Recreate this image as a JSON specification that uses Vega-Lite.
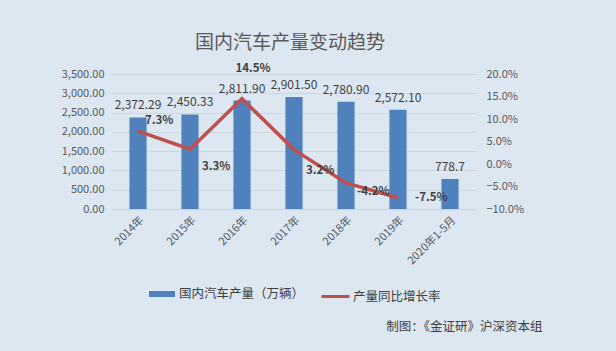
{
  "$schema": "https://vega.github.io/schema/vega-lite/v6.json",
  "width": 364,
  "height": 135,
  "autosize": {"type": "none"},
  "padding": {"left": 112, "top": 74, "right": 140, "bottom": 142},
  "background": "#dde7f1",
  "config": {
    "view": {"stroke": null},
    "font": "Noto Sans CJK SC",
    "axis": {"labelFont": "Noto Sans CJK SC", "labelColor": "#595959", "labelFontSize": 11, "titleFont": "Noto Sans CJK SC"},
    "legend": {"labelFont": "Noto Sans CJK SC", "labelColor": "#404040", "labelFontSize": 12.5}
  },
  "title": {
    "text": "国内汽车产量变动趋势",
    "fontSize": 19,
    "fontWeight": "normal",
    "color": "#595959",
    "font": "Noto Sans CJK SC",
    "anchor": "middle",
    "frame": "group",
    "dx": -4,
    "offset": 10
  },
  "data": {
    "values": [
      {"year": "2014年", "prod": 2372.29, "label": "2,372.29", "growth": 0.073, "glabel": "7.3%", "pos": "a"},
      {"year": "2015年", "prod": 2450.33, "label": "2,450.33", "growth": 0.033, "glabel": "3.3%", "pos": "b"},
      {"year": "2016年", "prod": 2811.90, "label": "2,811.90", "growth": 0.145, "glabel": "14.5%", "pos": "c"},
      {"year": "2017年", "prod": 2901.50, "label": "2,901.50", "growth": 0.032, "glabel": "3.2%", "pos": "f"},
      {"year": "2018年", "prod": 2780.90, "label": "2,780.90", "growth": -0.042, "glabel": "-4.2%", "pos": "d"},
      {"year": "2019年", "prod": 2572.10, "label": "2,572.10", "growth": -0.075, "glabel": "-7.5%", "pos": "e"},
      {"year": "2020年1-5月", "prod": 778.7, "label": "778.7", "growth": null, "glabel": null, "pos": null}
    ]
  },
  "encoding": {
    "x": {
      "field": "year",
      "type": "nominal",
      "sort": null,
      "scale": {"paddingInner": 0.67, "paddingOuter": 0.335},
      "axis": {
        "labelAngle": -45,
        "ticks": false,
        "domain": true,
        "domainColor": "#c9d2dc",
        "labelPadding": 5,
        "title": "制图：《金证研》沪深资本组",
        "titleX": 430,
        "titleY": 117,
        "titleAlign": "right",
        "titleBaseline": "middle",
        "titleFontSize": 12.5,
        "titleFontWeight": "normal",
        "titleColor": "#404040"
      }
    }
  },
  "layer": [
    {
      "mark": {"type": "bar", "color": "#4f81bd"},
      "encoding": {
        "y": {
          "field": "prod",
          "type": "quantitative",
          "scale": {"domain": [0, 3500]},
          "axis": {
            "values": [0, 500, 1000, 1500, 2000, 2500, 3000, 3500],
            "format": ",.2f",
            "title": null,
            "ticks": false,
            "domain": false,
            "gridColor": "#cdd5de",
            "labelPadding": 8
          }
        },
        "fill": {
          "datum": "国内汽车产量（万辆）",
          "scale": {"range": ["#4f81bd"]},
          "legend": {
            "title": null,
            "orient": "none",
            "legendX": 37,
            "legendY": 207,
            "symbolType": "M-1,-0.23H1V0.23H-1Z",
            "symbolSize": 676,
            "symbolStrokeWidth": 0,
            "labelOffset": 4
          }
        }
      }
    },
    {
      "mark": {"type": "text", "baseline": "bottom", "dy": -5, "fontSize": 12, "color": "#404040"},
      "encoding": {
        "y": {"field": "prod", "type": "quantitative", "scale": {"domain": [0, 3500]}, "axis": null},
        "text": {"field": "label"}
      }
    },
    {
      "transform": [{"filter": "datum.growth != null"}],
      "encoding": {
        "y": {
          "field": "growth",
          "type": "quantitative",
          "scale": {"domain": [-0.1, 0.2]},
          "axis": {
            "orient": "right",
            "values": [-0.1, -0.05, 0, 0.05, 0.1, 0.15, 0.2],
            "format": ".1%",
            "title": null,
            "ticks": false,
            "domain": false,
            "grid": false,
            "labelPadding": 10
          }
        }
      },
      "layer": [
        {
          "mark": {"type": "line", "strokeWidth": 3.5},
          "encoding": {
            "stroke": {
              "datum": "产量同比增长率",
              "scale": {"range": ["#c0504d"]},
              "legend": {
                "title": null,
                "orient": "none",
                "legendX": 208,
                "legendY": 207,
                "symbolType": "stroke",
                "symbolSize": 784,
                "symbolStrokeWidth": 3,
                "labelOffset": 2
              }
            }
          }
        },
        {
          "transform": [{"filter": "datum.pos == 'a'"}],
          "mark": {"type": "text", "align": "left", "dx": 7, "dy": -10, "fontSize": 11.5, "fontWeight": "bold", "color": "#404040"},
          "encoding": {"text": {"field": "glabel"}}
        },
        {
          "transform": [{"filter": "datum.pos == 'b'"}],
          "mark": {"type": "text", "align": "left", "dx": 12, "dy": 18, "fontSize": 11.5, "fontWeight": "bold", "color": "#404040"},
          "encoding": {"text": {"field": "glabel"}}
        },
        {
          "transform": [{"filter": "datum.pos == 'f'"}],
          "mark": {"type": "text", "align": "left", "dx": 12, "dy": 21, "fontSize": 11.5, "fontWeight": "bold", "color": "#404040"},
          "encoding": {"text": {"field": "glabel"}}
        },
        {
          "transform": [{"filter": "datum.pos == 'c'"}],
          "mark": {"type": "text", "align": "center", "dx": 11, "dy": -30, "fontSize": 11.5, "fontWeight": "bold", "color": "#404040"},
          "encoding": {"text": {"field": "glabel"}}
        },
        {
          "transform": [{"filter": "datum.pos == 'd'"}],
          "mark": {"type": "text", "align": "left", "dx": 11, "dy": 9, "fontSize": 11.5, "fontWeight": "bold", "color": "#404040"},
          "encoding": {"text": {"field": "glabel"}}
        },
        {
          "transform": [{"filter": "datum.pos == 'e'"}],
          "mark": {"type": "text", "align": "left", "dx": 17, "dy": 0, "fontSize": 11.5, "fontWeight": "bold", "color": "#404040"},
          "encoding": {"text": {"field": "glabel"}}
        }
      ]
    }
  ],
  "resolve": {"scale": {"y": "independent"}}
}
